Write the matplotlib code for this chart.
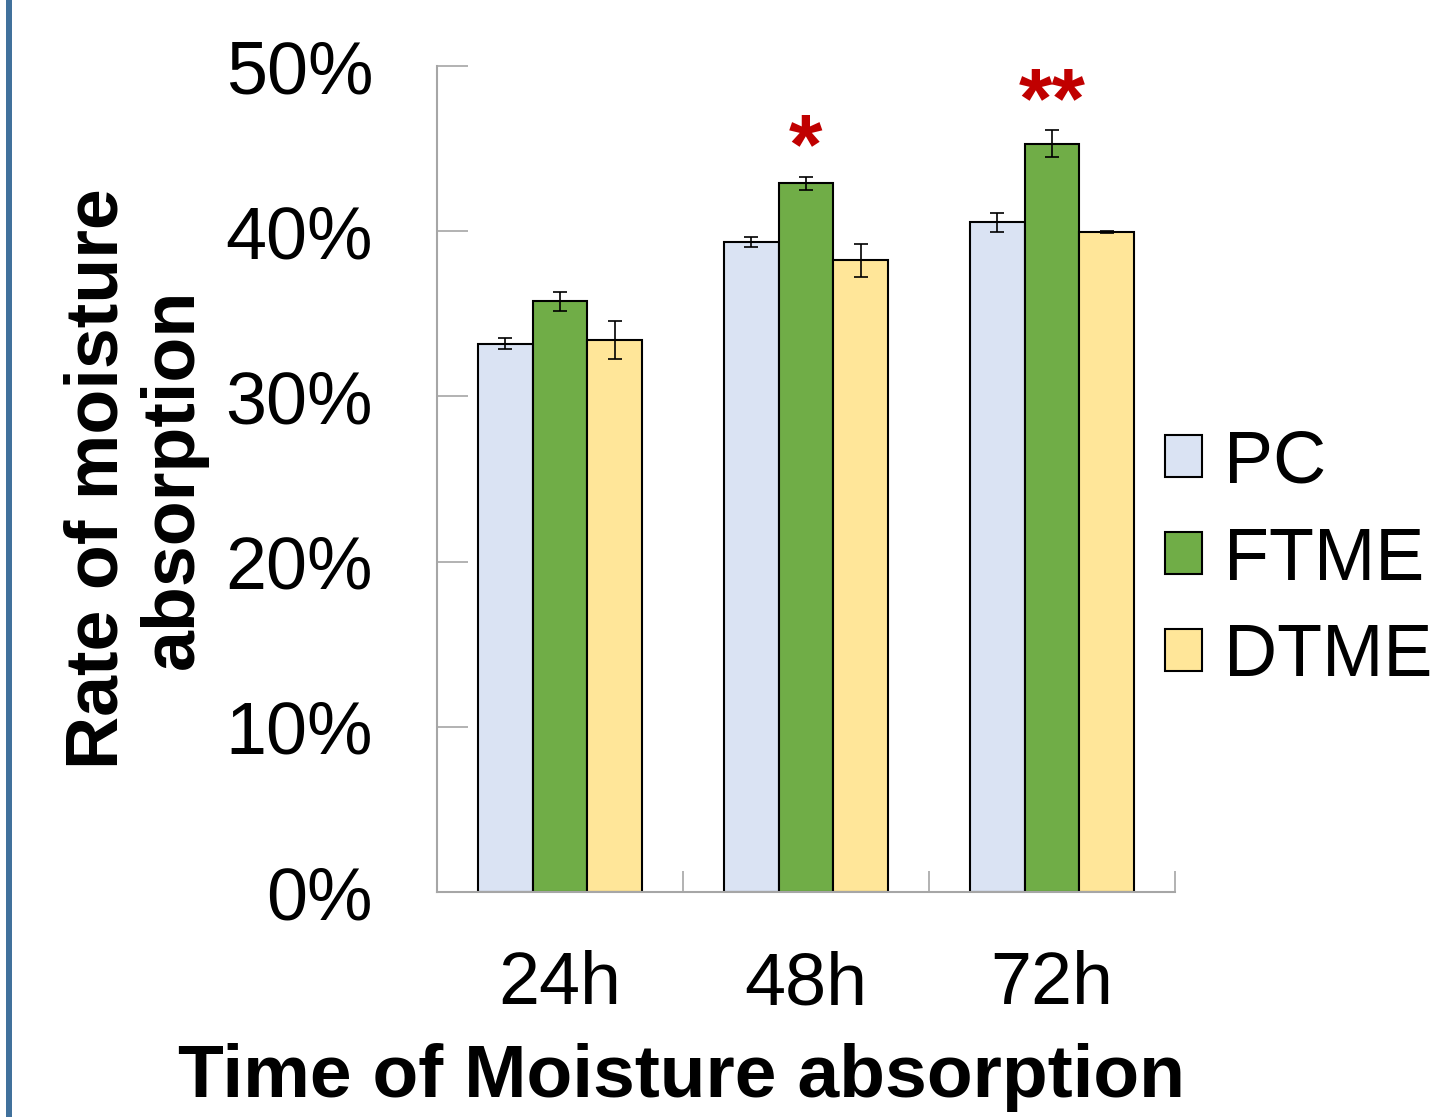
import matplotlib.pyplot as plt
import numpy as np
from matplotlib.patches import Rectangle
from matplotlib.ticker import FixedLocator, PercentFormatter

plt.rcParams["font.family"] = ["Liberation Sans", "DejaVu Sans"]

# data (percent)
times = ["24h", "48h", "72h"]
groups = ["PC", "FTME", "DTME"]
pc_vals = [33.2, 39.35, 40.55]
ftme_vals = [35.75, 42.9, 45.3]
dtme_vals = [33.4, 38.25, 39.95]
pc_err = [0.33, 0.3, 0.57]
ftme_err = [0.57, 0.4, 0.8]
dtme_err = [1.15, 1.0, 0.06]
sig_marks = ["", "*", "**"]

colors = ["#dae3f3", "#70ad47", "#ffe699"]
axis_grey = "#a6a6a6"

fig = plt.figure(figsize=(14.36, 11.17), dpi=100)
ax = fig.add_axes([437 / 1436, 1 - 892 / 1117, 738 / 1436, 826 / 1117])

x = np.arange(len(times))
width = 0.222
series = [(pc_vals, pc_err), (ftme_vals, ftme_err), (dtme_vals, dtme_err)]
for i, (vals, errs) in enumerate(series):
    ax.bar(x + (i - 1) * width, vals, width, yerr=errs, color=colors[i],
           edgecolor="black", linewidth=1.5, label=groups[i], zorder=2,
           error_kw=dict(ecolor="black", elinewidth=1.2, capsize=5, capthick=1.2))

# significance stars above FTME bars
for xi, mark, v, e in zip(x, sig_marks, ftme_vals, ftme_err):
    if mark:
        ax.text(xi, v + e - 0.9, mark, color="#c00000", fontsize=62,
                fontweight="bold", ha="center", va="bottom")

ax.set_xlim(-0.5, 2.5)
ax.set_ylim(0, 50)
ax.yaxis.set_major_locator(FixedLocator([0, 10, 20, 30, 40, 50]))
ax.yaxis.set_major_formatter(PercentFormatter(decimals=0))
ax.set_xticks(x)
ax.set_xticklabels(times)
ax.xaxis.set_minor_locator(FixedLocator([-0.5, 0.5, 1.5, 2.5]))

ax.tick_params(axis="x", which="major", length=0, labelsize=53, pad=42)
ax.tick_params(axis="x", which="minor", direction="in", length=15, width=1.2,
               color=axis_grey)
ax.tick_params(axis="y", direction="in", length=22, width=1.2, color=axis_grey,
               labelsize=53, pad=46)

for s in ["top", "right"]:
    ax.spines[s].set_visible(False)
for s in ["left", "bottom"]:
    ax.spines[s].set_color(axis_grey)
    ax.spines[s].set_linewidth(1.5)

ax.set_ylabel("Rate of moisture\nabsorption", fontsize=53, fontweight="bold",
              linespacing=1.12)
ax.yaxis.set_label_coords(-0.31, 0.5)
ax.set_xlabel("Time of Moisture absorption", fontsize=54, fontweight="bold")
ax.xaxis.set_label_coords(0.331, -0.183)
ax.xaxis.label.set_va("top")

ax.legend(loc="center left", bbox_to_anchor=(1165 / 1436, 1 - 560 / 1117),
          bbox_transform=fig.transFigure, frameon=False, fontsize=53,
          handlelength=0.5, handleheight=0.5, handletextpad=0.3,
          labelspacing=0.38, borderpad=0, borderaxespad=0)

# blue rule on the left edge
fig.add_artist(Rectangle((6 / 1436, 0), 6 / 1436, 1, transform=fig.transFigure,
                         facecolor="#41719c", edgecolor="none"))

fig.savefig("out.png", dpi=100)
